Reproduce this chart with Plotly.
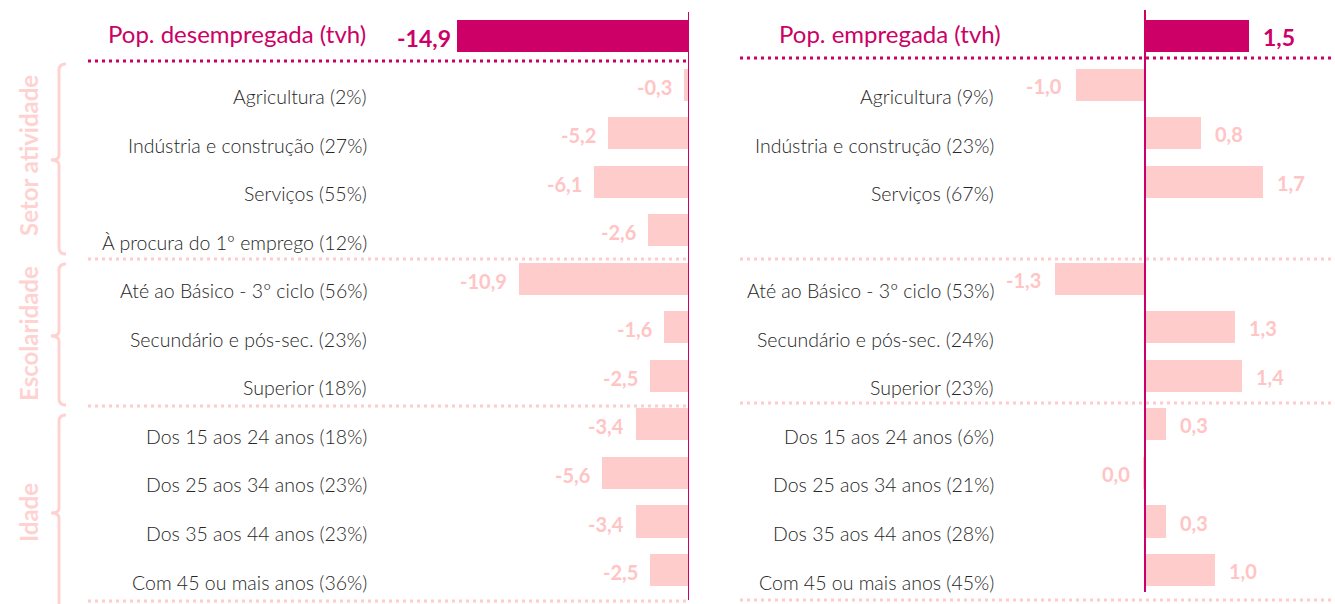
import plotly.graph_objects as go

W, H = 1335, 604

# ---------------- data ----------------
rows = list(range(12))
left_labels = ["Pop. desempregada (tvh)", "Agricultura (2%)", "Indústria e construção (27%)",
               "Serviços (55%)", "À procura do 1º emprego (12%)", "Até ao Básico - 3º ciclo (56%)",
               "Secundário e pós-sec. (23%)", "Superior (18%)", "Dos 15 aos 24 anos (18%)",
               "Dos 25 aos 34 anos (23%)", "Dos 35 aos 44 anos (23%)", "Com 45 ou mais anos (36%)"]
left_values = [-14.9, -0.3, -5.2, -6.1, -2.6, -10.9, -1.6, -2.5, -3.4, -5.6, -3.4, -2.5]

right_labels = ["Pop. empregada (tvh)", "Agricultura (9%)", "Indústria e construção (23%)",
                "Serviços (67%)", "", "Até ao Básico - 3º ciclo (53%)",
                "Secundário e pós-sec. (24%)", "Superior (23%)", "Dos 15 aos 24 anos (6%)",
                "Dos 25 aos 34 anos (21%)", "Dos 35 aos 44 anos (28%)", "Com 45 ou mais anos (45%)"]
right_values = [1.5, -1.0, 0.8, 1.7, None, -1.3, 1.3, 1.4, 0.3, -0.02, 0.3, 1.0]

groups = ["Setor atividade", "Escolaridade", "Idade"]

# ---------------- style ----------------
MAG = "#CC0066"
PINK = "#FFCCCC"
PINK_TXT = "#FFC4C4"
BRK = "#FFD2D2"
TXT = "#262626"
FONT = "Lato"


def fmt(v):
    s = f"{abs(v):.1f}".replace(".", ",")
    if round(v, 1) < 0:
        s = "-" + s
    return s


def px(x):
    return x / W


def py(y):
    return 1 - y / H


# geometry (pixels)
L0, LS = 689, 15.6       # left zero position, px per unit
R0, RS = 1145, 69.5      # right zero position, px per unit
RX0 = 700
Y0, YS = 36, 48.55

fig = go.Figure()
colors = [MAG] + [PINK] * 11
fig.add_trace(go.Bar(x=left_values, y=rows, orientation="h", marker_color=colors,
                     marker_line_width=0, width=0.66, xaxis="x", yaxis="y",
                     hoverinfo="skip"))
fig.add_trace(go.Bar(x=right_values, y=rows, orientation="h", marker_color=colors,
                     marker_line_width=0, width=0.66, xaxis="x2", yaxis="y",
                     hoverinfo="skip"))

ann = []
# category labels
for i, lab in enumerate(left_labels):
    if i == 0:
        ann.append(dict(x=px(368), y=i, xref="paper", yref="y", text=lab, xanchor="right",
                        yanchor="middle", yshift=3, showarrow=False,
                        font=dict(family=FONT, size=24, color=MAG)))
    else:
        ann.append(dict(x=px(369), y=i, xref="paper", yref="y", text=lab, xanchor="right",
                        yanchor="middle", yshift=-12, showarrow=False,
                        font=dict(family=FONT, size=19.5, color=TXT, weight=300)))
for i, lab in enumerate(right_labels):
    if not lab:
        continue
    if i == 0:
        ann.append(dict(x=px(1003), y=i, xref="paper", yref="y", text=lab, xanchor="right",
                        yanchor="middle", yshift=3, showarrow=False,
                        font=dict(family=FONT, size=24, color=MAG)))
    else:
        ann.append(dict(x=px(996), y=i, xref="paper", yref="y", text=lab, xanchor="right",
                        yanchor="middle", yshift=-12, showarrow=False,
                        font=dict(family=FONT, size=19.5, color=TXT, weight=300)))

# value labels
for i, v in enumerate(left_values):
    head = i == 0
    ann.append(dict(x=v, y=i, xref="x", yref="y", text=fmt(v), xanchor="right",
                    yanchor="middle", xshift=-4 if head else -10, yshift=-2, showarrow=False,
                    font=dict(family=FONT, size=23 if head else 20,
                              color=MAG if head else PINK_TXT, weight="bold")))
for i, v in enumerate(right_values):
    if v is None:
        continue
    head = i == 0
    pos = v >= 0
    ann.append(dict(x=v, y=i, xref="x2", yref="y", text=fmt(v),
                    xanchor="left" if pos else "right",
                    yanchor="middle", xshift=12 if pos else -12, yshift=-1, showarrow=False,
                    font=dict(family=FONT, size=23 if head else 20,
                              color=MAG if head else PINK_TXT, weight="bold")))

# group labels
group_mid = [156, 334, 513]
for g, m in zip(groups, group_mid):
    ann.append(dict(x=px(28), y=py(m), xref="paper", yref="paper", text=g, textangle=-90,
                    xanchor="center", yanchor="middle", showarrow=False,
                    font=dict(family=FONT, size=24, color=BRK, weight="bold")))

shapes = []
# zero lines
shapes.append(dict(type="line", xref="x", yref="paper", x0=0, x1=0, y0=py(12), y1=py(600),
                   line=dict(color=MAG, width=2)))
shapes.append(dict(type="line", xref="x2", yref="paper", x0=0, x1=0, y0=py(10), y1=py(592),
                   line=dict(color=MAG, width=2)))

# dotted separators
DASH = "3px,4px"
for (x0, x1, y, c) in [(88, 688, 61, MAG), (88, 688, 259, PINK), (88, 688, 406, PINK),
                       (88, 688, 601, PINK), (740, 1335, 58, MAG), (740, 1335, 259, PINK),
                       (740, 1335, 403, PINK), (740, 1335, 600, PINK)]:
    shapes.append(dict(type="line", xref="paper", yref="paper", x0=px(x0), x1=px(x1),
                       y0=py(y), y1=py(y), line=dict(color=c, width=3, dash=DASH)))


# brackets
def P(x, y):
    return f"{px(x):.5f},{py(y):.5f}"


def bracket(top, bot, mid, xv=59, xh=66, xn=51):
    return (f"M {P(xh, top)} Q {P(xv, top)} {P(xv, top + 6)} L {P(xv, mid - 5)} "
            f"Q {P(xv, mid)} {P(xn, mid)} Q {P(xv, mid)} {P(xv, mid + 5)} "
            f"L {P(xv, bot - 6)} Q {P(xv, bot)} {P(xh, bot)}")


for (t, b, m) in [(64, 254, 160), (264, 405, 336), (415, 620, 513)]:
    shapes.append(dict(type="path", xref="paper", yref="paper", path=bracket(t, b, m),
                       line=dict(color=BRK, width=3)))

fig.update_layout(
    width=W, height=H,
    margin=dict(l=0, r=0, t=0, b=0),
    paper_bgcolor="white", plot_bgcolor="white",
    showlegend=False,
    bargap=0,
    xaxis=dict(domain=[0, L0 / W], range=[-L0 / LS, 0], visible=False, fixedrange=True),
    xaxis2=dict(domain=[RX0 / W, 1], range=[-(R0 - RX0) / RS, (W - R0) / RS],
                anchor="y", visible=False, fixedrange=True),
    yaxis=dict(range=[(H - Y0) / YS, -Y0 / YS], visible=False, fixedrange=True),
    annotations=ann,
    shapes=shapes,
)

fig.write_html("out.html", config={"displayModeBar": False},
               post_script="document.body.style.margin='0';document.body.style.overflow='hidden';")
